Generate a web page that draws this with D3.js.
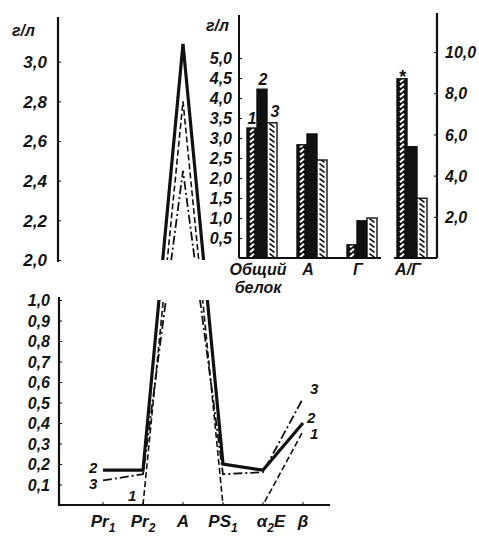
<!DOCTYPE html>
<html>
<head>
<meta charset="utf-8">
<script src="https://cdn.jsdelivr.net/npm/d3@7"></script>
<style>
  body { margin: 0; background: #fff; }
  svg text { font-family: "Liberation Sans", Arial, sans-serif; font-style: italic; font-weight: bold; fill: #151515; }
</style>
</head>
<body>
<div id="chart"></div>
<script>
// left chart: protein fractions, g/l (broken axis 0..1 and 2..3.2)
const fractions = ["Pr1", "Pr2", "A", "PS1", "a2", "b"];
const fractionLabels = [["Pr", "1", ""], ["Pr", "2", ""], ["A", "", ""], ["PS", "1", ""], ["α", "2", "E"], ["β", "", ""]];
const line1 = [null, 0, 2.8, 0, 0, 0.36];
const line2 = [0.17, 0.17, 3.09, 0.2, 0.17, 0.40];
const line3 = [0.12, 0.15, 2.45, 0.15, 0.16, 0.52];
const upperTicks = [2.0, 2.2, 2.4, 2.6, 2.8, 3.0];
const lowerTicks = [0.1, 0.2, 0.3, 0.4, 0.5, 0.6, 0.7, 0.8, 0.9, 1.0];

// right chart: bars
const groups = ["Общий белок", "А", "Г", "А/Г"];
const bar1 = [3.25, 2.83, 0.33, 8.7];
const bar2 = [4.22, 3.1, 0.93, 5.4];
const bar3 = [3.38, 2.45, 1.0, 2.9];
const barTicks = [0.5, 1.0, 1.5, 2.0, 2.5, 3.0, 3.5, 4.0, 4.5, 5.0];
const ratioTicks = [2, 4, 6, 8, 10];

const W = 479, H = 538;
const fmt = d3.formatLocale({decimal: ",", thousands: " ", grouping: [3], currency: ["", ""]}).format(".1f");

const svg = d3.select("#chart").append("svg")
  .attr("width", W).attr("height", H);

// ---------- left line chart ----------
const x = d3.scalePoint().domain(fractions).range([103, 303]);
const yLow = d3.scaleLinear().domain([0, 1]).range([505, 300]);
const yHigh = d3.scaleLinear().domain([2, 3.2]).range([260, 22]);
const yBroken = d3.scaleLinear()
  .domain([0, 1, 2, 3.2])
  .range([yLow(0), yLow(1), yHigh(2), yHigh(3.2)]);

const defs = svg.append("defs");
const clip = defs.append("clipPath").attr("id", "clipLines");
clip.append("rect").attr("x", 60).attr("y", 17).attr("width", 180).attr("height", yHigh(2) - 17);
clip.append("rect").attr("x", 60).attr("y", yLow(1)).attr("width", 290).attr("height", 15 + yLow(0) - yLow(1));

// upper axis
const gUp = svg.append("g").attr("transform", "translate(58,0)")
  .call(d3.axisLeft(yHigh).tickValues(upperTicks).tickFormat(fmt).tickSizeInner(-3).tickSizeOuter(0).tickPadding(11));
gUp.select(".domain").remove();
gUp.selectAll("text").style("font-size", "17px").attr("dy", "0.35em");
svg.append("line").attr("x1", 58).attr("x2", 58).attr("y1", 17).attr("y2", yHigh(2) + 2)
  .attr("stroke", "#111").attr("stroke-width", 2.2);
svg.append("text").attr("x", 12).attr("y", 36).style("font-size", "16px").text("г/л");

// lower axis
const gLow = svg.append("g").attr("transform", "translate(59,0)")
  .call(d3.axisLeft(yLow).tickValues(lowerTicks).tickFormat(fmt).tickSizeInner(-3).tickSizeOuter(0).tickPadding(9));
gLow.select(".domain").remove();
gLow.selectAll("text").style("font-size", "16px").attr("dy", "0.35em");
svg.append("line").attr("x1", 59).attr("x2", 59).attr("y1", yLow(1) - 3).attr("y2", yLow(0))
  .attr("stroke", "#111").attr("stroke-width", 2.2);
svg.append("line").attr("x1", 58).attr("x2", 330).attr("y1", yLow(0)).attr("y2", yLow(0))
  .attr("stroke", "#111").attr("stroke-width", 2);

// x tick marks & labels
svg.selectAll(".xtick").data(fractions).join("line")
  .attr("x1", d => x(d)).attr("x2", d => x(d))
  .attr("y1", yLow(0)).attr("y2", yLow(0) - 3)
  .attr("stroke", "#111");
const xl = svg.selectAll(".xlab").data(fractionLabels).join("text")
  .attr("x", (d, i) => x(fractions[i]) + (d[2] ? 8 : 0))
  .attr("y", 527)
  .attr("text-anchor", "middle")
  .style("font-size", "17px");
xl.append("tspan").text(d => d[0]);
xl.append("tspan").attr("dy", 5).style("font-size", "12px").text(d => d[1]);
xl.append("tspan").attr("dy", d => d[1] ? -5 : 0).text(d => d[2]);

// the three lines
const series = [
  {key: "1", values: line1, width: 1.6, dash: "6,3"},
  {key: "2", values: line2, width: 3.2, dash: null},
  {key: "3", values: line3, width: 1.8, dash: "9,3,2,3"}
];
const lineGen = d3.line()
  .defined(d => d != null)
  .x((d, i) => x(fractions[i]))
  .y(d => yBroken(d));

svg.append("g").attr("clip-path", "url(#clipLines)")
  .selectAll("path").data(series).join("path")
  .attr("d", s => lineGen(s.values))
  .attr("fill", "none")
  .attr("stroke", "#111")
  .attr("stroke-width", s => s.width)
  .attr("stroke-dasharray", s => s.dash)
  .attr("stroke-linejoin", "miter");

// series numbers at line ends
const last = fractions.length - 1;
svg.append("text").attr("x", x(fractions[0]) - 14).attr("y", yLow(line2[0]) + 3).style("font-size", "15px").text("2");
svg.append("text").attr("x", x(fractions[0]) - 14).attr("y", yLow(line3[0]) + 9).style("font-size", "15px").text("3");
svg.append("text").attr("x", x(fractions[1]) - 15).attr("y", yLow(0) - 4).style("font-size", "15px").text("1");
svg.append("text").attr("x", x(fractions[last]) + 7).attr("y", yLow(line3[last]) - 4).style("font-size", "15px").text("3");
svg.append("text").attr("x", x(fractions[last]) + 4).attr("y", yLow(line2[last])).style("font-size", "15px").text("2");
svg.append("text").attr("x", x(fractions[last]) + 7).attr("y", yLow(line1[last]) + 8).style("font-size", "15px").text("1");

// ---------- right bar chart ----------
const x0 = d3.scaleBand().domain(groups).range([237, 437]).paddingInner(0.4).paddingOuter(0.2);
const x1 = d3.scaleBand().domain(["1", "2", "3"]).range([0, x0.bandwidth()]);
const yBar = d3.scaleLinear().domain([0, 5.5]).range([258, 38]);
const yRatio = d3.scaleLinear().domain([0, 10]).range([258, 52]);
const bw = x1.bandwidth();

const p1 = defs.append("pattern").attr("id", "hatch1").attr("patternUnits", "userSpaceOnUse")
  .attr("x", x0(groups[0])).attr("y", 258).attr("width", bw).attr("height", 5);
p1.append("rect").attr("width", bw).attr("height", 5).attr("fill", "#111");
p1.append("line").attr("x1", bw * 0.3).attr("y1", 4.2).attr("x2", bw * 0.7).attr("y2", 0.8)
  .attr("stroke", "#fff").attr("stroke-width", 2);
const p3 = defs.append("pattern").attr("id", "hatch3").attr("patternUnits", "userSpaceOnUse")
  .attr("x", x0(groups[0]) + x1("3")).attr("y", 258).attr("width", bw).attr("height", 5);
p3.append("rect").attr("width", bw).attr("height", 5).attr("fill", "#fff");
p3.append("line").attr("x1", bw * 0.25).attr("y1", 0.6).attr("x2", bw * 0.75).attr("y2", 4.4)
  .attr("stroke", "#111").attr("stroke-width", 1.6);

const bars = [];
groups.forEach((g, i) => {
  const ys = i === 3 ? yRatio : yBar;
  [["1", bar1[i], "url(#hatch1)"], ["2", bar2[i], "#111"], ["3", bar3[i], "url(#hatch3)"]].forEach(([k, v, f]) => {
    bars.push({g, k, v, f, ys});
  });
});
svg.append("g").selectAll("rect").data(bars).join("rect")
  .attr("x", d => x0(d.g) + x1(d.k))
  .attr("y", d => d.ys(d.v))
  .attr("width", bw)
  .attr("height", d => 258 - d.ys(d.v))
  .attr("fill", d => d.f)
  .attr("stroke", "#111")
  .attr("stroke-width", 1.4);

// left bar axis
const gB = svg.append("g").attr("transform", "translate(239,0)")
  .call(d3.axisLeft(yBar).tickValues(barTicks).tickFormat(fmt).tickSizeInner(-3).tickSizeOuter(0).tickPadding(7));
gB.select(".domain").remove();
gB.selectAll("text").style("font-size", "16px").attr("dy", "0.35em");
svg.append("line").attr("x1", 239).attr("x2", 239).attr("y1", 15).attr("y2", 258)
  .attr("stroke", "#111").attr("stroke-width", 2);
svg.append("text").attr("x", 206).attr("y", 31).style("font-size", "16px").text("г/л");

// right ratio axis
const gR = svg.append("g").attr("transform", "translate(437,0)")
  .call(d3.axisRight(yRatio).tickValues(ratioTicks).tickFormat(fmt).tickSizeInner(-3).tickSizeOuter(0).tickPadding(8));
gR.select(".domain").remove();
gR.selectAll("text").style("font-size", "16px").attr("dy", "0.35em");
svg.append("line").attr("x1", 437).attr("x2", 437).attr("y1", 13).attr("y2", 258)
  .attr("stroke", "#111").attr("stroke-width", 2.2);

// bar baselines
svg.append("line").attr("x1", 239).attr("x2", x0(groups[2]) + x0.bandwidth() + 4).attr("y1", 258).attr("y2", 258)
  .attr("stroke", "#111").attr("stroke-width", 2);
svg.append("line").attr("x1", x0(groups[3]) - 3).attr("x2", 437).attr("y1", 258).attr("y2", 258)
  .attr("stroke", "#111").attr("stroke-width", 2);

// group labels, one text per word line
const glData = [];
groups.forEach(g => g.split(" ").forEach((p, j) => glData.push({g, p, j})));
svg.selectAll(".glab").data(glData).join("text")
  .attr("x", d => x0(d.g) + x0.bandwidth() / 2 - 4)
  .attr("y", d => 275 + d.j * 18)
  .attr("text-anchor", "middle")
  .style("font-size", "16px")
  .text(d => d.p);

// series numbers over first group, asterisk over A/G
svg.append("text").attr("x", x0(groups[0]) + x1("1") + 5).attr("y", yBar(bar1[0]) - 4).attr("text-anchor", "middle").style("font-size", "16px").text("1");
svg.append("text").attr("x", x0(groups[0]) + x1("2") + 6).attr("y", yBar(bar2[0]) - 4).attr("text-anchor", "middle").style("font-size", "16px").text("2");
svg.append("text").attr("x", x0(groups[0]) + x1("3") + 8).attr("y", yBar(bar3[0]) - 6).attr("text-anchor", "middle").style("font-size", "16px").text("3");
svg.append("text").attr("x", x0(groups[3]) + x1("1") + 5).attr("y", yRatio(bar1[3]) + 4).attr("text-anchor", "middle").style("font-size", "18px").text("*");
</script>
</body>
</html>
